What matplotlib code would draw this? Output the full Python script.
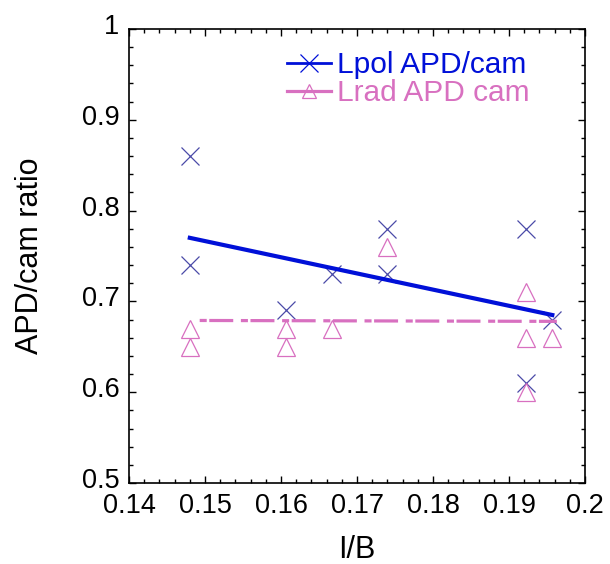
import numpy as np
import matplotlib
matplotlib.use("Agg")
import matplotlib.pyplot as plt
import matplotlib.transforms as mtransforms
from matplotlib.ticker import MultipleLocator, FormatStrFormatter


# Lpol APD/cam (crosses)
lpol_x = [0.148, 0.148, 0.1607, 0.1667, 0.1739, 0.1739, 0.1923, 0.1923, 0.1957]
lpol_y = [0.86, 0.74, 0.69, 0.73, 0.78, 0.73, 0.78, 0.61, 0.68]

# Lrad APD cam (triangles)
lrad_x = [0.148, 0.148, 0.1607, 0.1607, 0.1667, 0.1739, 0.1923, 0.1923, 0.1923, 0.1957]
lrad_y = [0.67, 0.65, 0.67, 0.65, 0.67, 0.76, 0.71, 0.66, 0.60, 0.66]

# fit lines
lpol_fit_x = [0.148, 0.1957]
lpol_fit_y = [0.770, 0.685]
lrad_fit_x = [0.1493, 0.1963]
lrad_fit_y = [0.679, 0.678]

blue = "#0010d8"
blue_mk = "#4a4aa8"
pink = "#d870c0"

plt.rcParams['font.family'] = ['Liberation Sans', 'DejaVu Sans']

fig = plt.figure(figsize=(6.10, 5.64), dpi=100)
ax = fig.add_axes([0.2115, 0.1436, 0.7475, 0.805])

ax.plot(lpol_x, lpol_y, linestyle='none', marker='x', markersize=13,
        markeredgewidth=0.9, color=blue_mk)
ax.plot(lrad_x, lrad_y, linestyle='none', marker='^', markersize=12.5,
        markerfacecolor='none', markeredgewidth=0.9, color=pink)

ax.plot(lpol_fit_x, lpol_fit_y, color=blue, linewidth=3)
ax.plot(lrad_fit_x, lrad_fit_y, color=pink, linewidth=2.3,
        dashes=(2.2, 0.8, 7.5, 2.4))

# legend handles
h1, = ax.plot([], [], color=blue, linewidth=2, marker='x', markersize=13,
              markeredgewidth=0.9, markeredgecolor=blue)
h2, = ax.plot([], [], color=pink, linewidth=2.3, marker='^', markersize=10,
              markerfacecolor='none', markeredgewidth=0.9)
leg = ax.legend([h1, h2], ["Lpol APD/cam", "Lrad APD cam"], loc='upper left',
                bbox_to_anchor=(0.313, 0.984), frameon=False, fontsize=21.5,
                handlelength=1.5, handletextpad=0.2, labelspacing=0.0,
                borderpad=0.0)
for txt, c in zip(leg.get_texts(), [blue, pink]):
    txt.set_color(c)

ax.set_xlim(0.14, 0.2)
ax.set_ylim(0.5, 1.0)
ax.xaxis.set_major_locator(MultipleLocator(0.01))
ax.xaxis.set_minor_locator(MultipleLocator(0.002))
ax.yaxis.set_major_locator(MultipleLocator(0.1))
ax.yaxis.set_minor_locator(MultipleLocator(0.02))
ax.xaxis.set_major_formatter(FormatStrFormatter('%g'))
ax.yaxis.set_major_formatter(FormatStrFormatter('%g'))

ax.tick_params(which='both', direction='in', top=True, right=True,
               labelsize=19.5, width=1, color='black')
ax.tick_params(which='major', length=5, pad=7)
ax.tick_params(which='minor', length=3)
for sp in ax.spines.values():
    sp.set_linewidth(1.2)

# y tick labels sit slightly above their ticks
offset = mtransforms.ScaledTranslation(0, 5 / 100, fig.dpi_scale_trans)
for lab in ax.get_yticklabels():
    lab.set_transform(lab.get_transform() + offset)

ax.set_xlabel("I/B", fontsize=22, labelpad=12)
ax.set_ylabel("APD/cam ratio", fontsize=22, labelpad=26)

fig.savefig("out.png", dpi=100)
